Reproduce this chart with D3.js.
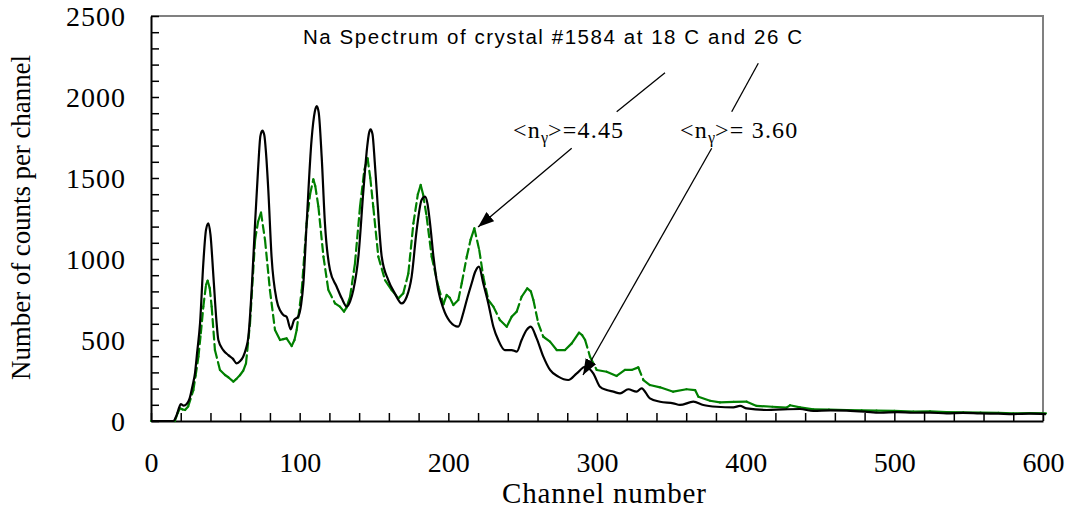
<!DOCTYPE html>
<html>
<head>
<meta charset="utf-8">
<script src="https://cdn.jsdelivr.net/npm/d3@7"></script>
<style>
  body { margin: 0; background: #fff; }
</style>
</head>
<body>
<div class="canvas"></div>
<script>
// channel / counts, 18 C run (green) and 26 C run (black)
const green18Ch = [0, 16, 18, 19.5, 21, 22.9, 25, 28.5, 30, 31.9, 33.5, 35.2, 37, 38.1, 39.5, 40.8, 43, 46.4, 49.8, 52, 55.4, 57.5, 59.9, 62, 63.9, 66.6, 70, 72, 74, 76.7, 80, 83.4, 86.8, 89, 91.2, 94.6, 96.5, 98, 101.4, 104.7, 107, 109.2, 110.5, 112.6, 116, 119.3, 123.8, 127.1, 129.8, 131.5, 133.9, 137.2, 140.6, 143.5, 145.7, 147.5, 149.5, 152.9, 157.4, 161.9, 166.4, 169.7, 173.1, 176.5, 179.5, 181.4, 183, 185.4, 188.8, 193.3, 196.7, 198.9, 201, 203.4, 206.7, 209, 212.4, 215, 217.5, 220.8, 223.5, 226.9, 230.3, 234.7, 239.3, 242.6, 246, 249.3, 253.1, 255.5, 257.2, 260.5, 263.9, 268.4, 272.9, 278.5, 283, 287.9, 290, 292, 295.3, 299.8, 306.5, 313.2, 318.8, 323.3, 327.8, 331.2, 335.6, 342.4, 351.3, 360.2, 366, 368.2, 376, 382.7, 392, 400.7, 407.4, 418, 427.5, 429.8, 436.5, 445.5, 456, 467.9, 478, 488, 500, 512.8, 524, 535, 546.4, 558, 570, 580, 591, 602];
const green18Counts = [0, 0, 50, 78, 72, 68, 90, 191, 280, 397, 540, 706, 840, 866, 820, 706, 438, 315, 284, 270, 243, 260, 284, 310, 356, 603, 1117, 1230, 1286, 1117, 808, 562, 500, 505, 510, 463, 500, 562, 808, 1220, 1400, 1492, 1450, 1323, 1014, 808, 726, 706, 675, 700, 767, 973, 1323, 1550, 1621, 1500, 1323, 1014, 870, 808, 757, 788, 911, 1220, 1400, 1457, 1400, 1261, 1014, 829, 720, 778, 760, 716, 747, 850, 1014, 1120, 1189, 1055, 891, 747, 706, 623, 582, 644, 675, 767, 819, 800, 747, 603, 520, 490, 438, 438, 479, 545, 530, 500, 397, 315, 304, 278, 315, 315, 331, 253, 222, 208, 181, 196, 191, 150, 125, 115, 118, 119, 93, 88, 82, 97, 84, 72, 70, 68, 66, 64, 62, 58, 60, 55, 54, 52, 50, 47, 48, 47];

const black26Ch = [0, 15, 17, 19, 20, 22, 24, 26, 28, 29.6, 31, 33, 35.2, 37, 38.6, 40, 42, 44, 45.3, 48.6, 52, 55, 57.6, 60, 62, 64, 65.5, 67.7, 70, 72, 73.6, 74.9, 76.2, 77.4, 78.9, 81.1, 84.5, 87, 89, 91.2, 94, 96.2, 99, 101, 102.5, 104.7, 108, 110.2, 111.5, 112.8, 114.8, 117, 120.4, 124.9, 128.3, 131.7, 134, 136.1, 139.5, 142.9, 145.5, 146.6, 147.7, 149, 150.5, 151.8, 155.2, 159.6, 164, 168.6, 172, 175.3, 178.7, 182, 184.3, 186, 187.7, 190, 193.2, 196.6, 201, 206.7, 210, 212.4, 215.7, 218, 220.6, 223.5, 226.9, 230.3, 233.6, 238, 242.6, 246, 249.3, 252.7, 255.4, 259.4, 263.9, 268.4, 274, 280.7, 286.4, 292, 297.5, 302, 306.5, 311, 315.5, 321, 326.6, 330, 335.6, 342.4, 351.3, 355.8, 364.8, 371.5, 380.5, 391.7, 396.2, 400.7, 414.2, 425, 436.5, 445.5, 457, 467.9, 480, 490.4, 502, 512.8, 524, 535.2, 546, 557.6, 570, 580, 591, 602];
const black26Counts = [0, 0, 30, 85, 105, 95, 105, 140, 220, 296, 420, 605, 975, 1180, 1220, 1150, 890, 620, 500, 438, 407, 385, 356, 370, 397, 450, 520, 808, 1220, 1550, 1760, 1792, 1765, 1650, 1426, 1014, 747, 680, 654, 644, 566, 623, 644, 720, 850, 1220, 1735, 1910, 1944, 1905, 1632, 1220, 932, 829, 757, 706, 740, 808, 1014, 1426, 1700, 1775, 1800, 1770, 1600, 1426, 1014, 870, 788, 726, 767, 890, 1179, 1364, 1385, 1340, 1220, 1014, 808, 695, 615, 582, 665, 747, 850, 920, 953, 850, 726, 582, 500, 438, 438, 428, 500, 562, 582, 510, 397, 315, 274, 253, 294, 335, 294, 212, 191, 181, 171, 196, 181, 202, 140, 119, 109, 99, 119, 99, 88, 84, 93, 78, 68, 72, 74, 62, 66, 64, 58, 51, 55, 51, 52, 47, 50, 47, 45, 43, 46, 43];

// tick values
const xTicks = d3.range(0, 601, 20);
const yTicks = d3.range(0, 2501, 100);

const titleText = 'Na Spectrum of crystal #1584 at 18 C and 26 C';

// svg container
const svg = d3.select('.canvas')
    .append('svg')
        .attr('width', 1071)
        .attr('height', 512);

// margins and dimensions
const margin = {top: 16, right: 28, bottom: 91, left: 151};
const graphWidth = 1071 - margin.left - margin.right;
const graphHeight = 512 - margin.top - margin.bottom;

const graph = svg.append('g')
    .attr('transform', `translate(${margin.left}, ${margin.top})`);

// scales
const x = d3.scaleLinear().domain([0, 600]).range([0, graphWidth]);
const y = d3.scaleLinear().domain([0, 2500]).range([graphHeight, 0]);

// grey frame on top and right
graph.append('path')
    .attr('d', `M0,0H${graphWidth}V${graphHeight}`)
    .attr('fill', 'none')
    .attr('stroke', '#808080')
    .attr('stroke-width', 2);

// axes, ticks pointing inward
const xAxis = d3.axisBottom(x)
    .tickValues(xTicks)
    .tickSize(-8)
    .tickSizeOuter(0)
    .tickPadding(31)
    .tickFormat(d => d % 100 === 0 ? d : '');

const yAxis = d3.axisLeft(y)
    .tickValues(yTicks)
    .tickSize(-8)
    .tickSizeOuter(0)
    .tickPadding(25)
    .tickFormat(d => d % 500 === 0 ? d : '');

const xAxisGroup = graph.append('g')
    .attr('transform', `translate(0, ${graphHeight})`)
    .call(xAxis);
const yAxisGroup = graph.append('g')
    .call(yAxis);

[xAxisGroup, yAxisGroup].forEach(g => {
    g.attr('font-family', '"Liberation Serif", "Times New Roman", serif')
        .attr('font-size', 28);
    g.select('.domain').attr('stroke-width', 2);
    g.selectAll('.tick line').attr('stroke-width', 1.5);
    g.selectAll('.tick text').attr('fill', '#000');
});
yAxisGroup.selectAll('.tick text').attr('dy', '0.34em').attr('letter-spacing', 1);

// curves
const black = black26Ch.map((c, i) => ({ch: c, n: black26Counts[i]}));
const green = green18Ch.map((c, i) => ({ch: c, n: green18Counts[i]}));

// green drawn piece by piece: only the steep pieces break into dashes
graph.append('g')
    .selectAll('line')
    .data(d3.pairs(green))
    .enter()
    .append('line')
        .attr('x1', d => x(d[0].ch))
        .attr('y1', d => y(d[0].n))
        .attr('x2', d => x(d[1].ch))
        .attr('y2', d => y(d[1].n))
        .attr('stroke', '#008000')
        .attr('stroke-width', 2.2)
        .attr('stroke-linecap', 'round')
        .attr('stroke-dasharray', d => Math.abs(y(d[0].n) - y(d[1].n)) > 12 ? '8,4.5' : null);

const line = d3.line()
    .x(d => x(d.ch))
    .y(d => y(d.n))
    .curve(d3.curveMonotoneX);

graph.append('path')
    .datum(black)
    .attr('d', line)
    .attr('fill', 'none')
    .attr('stroke', '#000')
    .attr('stroke-width', 2.2)
    .attr('stroke-linejoin', 'round');

// axis titles
svg.append('text')
    .attr('x', 604)
    .attr('y', 503)
    .attr('text-anchor', 'middle')
    .attr('font-family', '"Liberation Serif", serif')
    .attr('font-size', 29)
    .attr('textLength', 204)
    .attr('lengthAdjust', 'spacing')
    .text('Channel number');

svg.append('text')
    .attr('transform', 'translate(30, 217.5) rotate(-90)')
    .attr('text-anchor', 'middle')
    .attr('font-family', '"Liberation Serif", serif')
    .attr('font-size', 27)
    .attr('textLength', 325)
    .attr('lengthAdjust', 'spacing')
    .text('Number of counts per channel');

// title
svg.append('text')
    .attr('x', 303)
    .attr('y', 44)
    .attr('font-family', '"Liberation Sans", Arial, sans-serif')
    .attr('font-size', 20.5)
    .attr('textLength', 499)
    .attr('lengthAdjust', 'spacing')
    .text(titleText);

// annotations: label, where it sits, where its arrow points (data units)
const notes = [
    {value: '=4.45', lx: 513, ly: 138, top: [665, 72.7, 616.7, 111.7], from: [571.7, 148.3], ch: 220, n: 1198},
    {value: '= 3.60', lx: 680, ly: 138, top: [758.3, 63.3, 731.7, 111.7], from: [711.7, 148.3], ch: 290.6, n: 284}
];

svg.append('defs').append('marker')
    .attr('id', 'head')
    .attr('markerUnits', 'userSpaceOnUse')
    .attr('viewBox', '0 0 16 12')
    .attr('refX', 16)
    .attr('refY', 6)
    .attr('markerWidth', 16)
    .attr('markerHeight', 12)
    .attr('orient', 'auto')
    .append('path')
        .attr('d', 'M0,0L16,6L0,12Z')
        .attr('fill', '#000');

notes.forEach(d => {
    const t = svg.append('text')
        .attr('x', d.lx)
        .attr('y', d.ly)
        .attr('font-family', '"Liberation Serif", serif')
        .attr('font-size', 24)
        .attr('letter-spacing', 1.2);
    t.append('tspan').text('<n');
    t.append('tspan').attr('dy', 5).attr('font-size', 16).attr('letter-spacing', 0).text('γ');
    t.append('tspan').attr('dy', -5).text('>' + d.value);

    svg.append('line')
        .attr('x1', d.top[0]).attr('y1', d.top[1])
        .attr('x2', d.top[2]).attr('y2', d.top[3])
        .attr('stroke', '#000')
        .attr('stroke-width', 1.3);

    svg.append('line')
        .attr('x1', d.from[0]).attr('y1', d.from[1])
        .attr('x2', margin.left + x(d.ch))
        .attr('y2', margin.top + y(d.n))
        .attr('stroke', '#000')
        .attr('stroke-width', 1.3)
        .attr('marker-end', 'url(#head)');
});
</script>
</body>
</html>
